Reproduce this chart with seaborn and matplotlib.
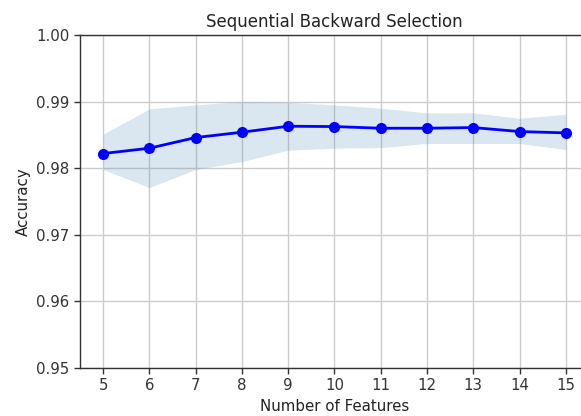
import numpy as np
import pandas as pd
import matplotlib
matplotlib.use("Agg")
import matplotlib.pyplot as plt
import seaborn as sns

# values
n_features = [5, 6, 7, 8, 9, 10, 11, 12, 13, 14, 15]
avg_score = [0.9822, 0.9830, 0.9846, 0.9854, 0.9863, 0.98625, 0.9860, 0.9860, 0.9861, 0.9855, 0.9853]
upper_bound = [0.9851, 0.9889, 0.9895, 0.9900, 0.9899, 0.9895, 0.9890, 0.9883, 0.9883, 0.9875, 0.9881]
lower_bound = [0.9798, 0.9771, 0.9798, 0.9810, 0.9827, 0.9830, 0.9831, 0.9837, 0.9837, 0.9837, 0.9828]
y_ticks = [0.95, 0.96, 0.97, 0.98, 0.99, 1.00]

sns.set_style("white")
plt.rcParams['font.family'] = ['DejaVu Sans']

df = pd.DataFrame({"features": n_features, "score": avg_score})

fig = plt.figure(figsize=(5.81, 4.16), dpi=100)
# the reference is cropped on the right, so the axes run past the figure edge
ax = fig.add_axes([0.1377, 0.1154, 0.876, 0.8005])

ax.fill_between(n_features, upper_bound, lower_bound, color="steelblue", alpha=0.2, linewidth=0)
sns.lineplot(data=df, x="features", y="score", ax=ax, color="blue", marker="o",
             markersize=8, markeredgewidth=0, linewidth=2)

ax.set_xlim(4.5, 15.5)
ax.set_ylim(0.95, 1.00)
ax.set_xticks(n_features)
ax.set_yticks(y_ticks)
ax.set_yticklabels([f"{v:.2f}" for v in y_ticks])
ax.grid(True, color="#cccccc", linewidth=1)
ax.set_axisbelow(True)
for s in ax.spines.values():
    s.set_color("#333333")
    s.set_linewidth(1)
ax.tick_params(axis="both", direction="out", length=4, width=1, color="#333333",
               labelsize=10.8, labelcolor="#333333", bottom=True, left=True)

ax.set_title("Sequential Backward Selection", fontsize=12, color="#222222")
ax.set_xlabel("Number of Features", fontsize=10.8, color="#222222")
ax.set_ylabel("Accuracy", fontsize=10.8, color="#222222")

fig.savefig("out.png", dpi=100)
